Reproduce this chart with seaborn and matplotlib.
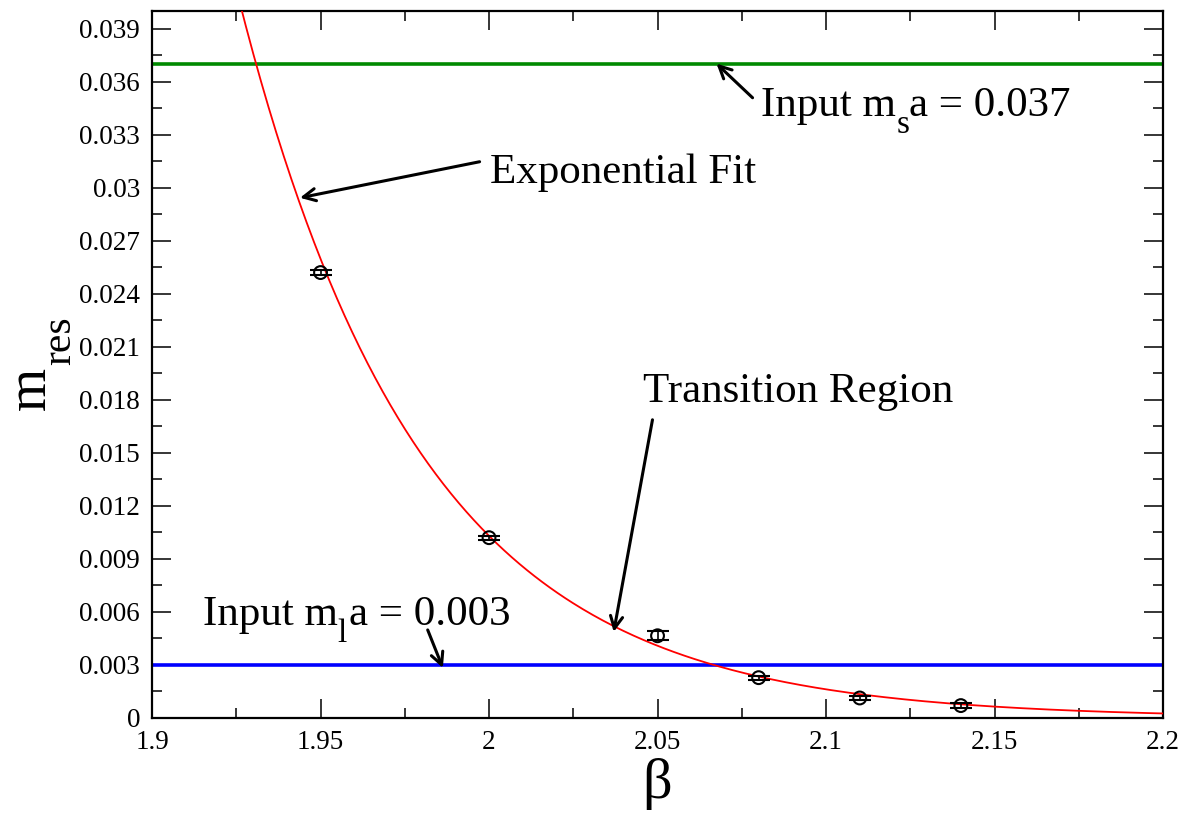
import numpy as np
import pandas as pd
import matplotlib
matplotlib.use("Agg")
import matplotlib.pyplot as plt
import seaborn as sns
from matplotlib.ticker import MultipleLocator

# ---- data ----
beta = [1.95, 2.00, 2.05, 2.08, 2.11, 2.14]
mres = [0.0252, 0.0102, 0.00465, 0.00228, 0.00113, 0.00070]
mres_err = [0.00012, 0.00012, 0.00025, 0.00012, 0.00012, 0.00012]

# exponential fit parameters: m = fit_amp * exp(-fit_rate * (beta - fit_ref))
fit_ref = 2.038
fit_amp = 0.0051
fit_rate = 18.5

ms_input = 0.037
ml_input = 0.003

xticks = [1.9, 1.95, 2.0, 2.05, 2.1, 2.15, 2.2]
xticklabels = ["1.9", "1.95", "2", "2.05", "2.1", "2.15", "2.2"]
yticks = [0, 0.003, 0.006, 0.009, 0.012, 0.015, 0.018, 0.021, 0.024, 0.027, 0.03, 0.033, 0.036, 0.039]
yticklabels = ["0", "0.003", "0.006", "0.009", "0.012", "0.015", "0.018", "0.021", "0.024",
               "0.027", "0.03", "0.033", "0.036", "0.039"]

sns.set_style("ticks")
plt.rcParams["font.family"] = ["Liberation Serif", "DejaVu Serif"]
for k in ["text.color", "axes.labelcolor", "xtick.color", "ytick.color", "axes.edgecolor"]:
    plt.rcParams[k] = "black"

fig = plt.figure(figsize=(11.84, 8.13), dpi=100)
ax = fig.add_axes([0.1284, 0.1169, 0.9823 - 0.1284, 0.9865 - 0.1169])

xfit = np.linspace(1.9, 2.2, 400)
fit_df = pd.DataFrame({"beta": xfit, "m": fit_amp * np.exp(-fit_rate * (xfit - fit_ref))})

# horizontal input lines
ax.axhline(ms_input, color="#008a00", lw=2.6, zorder=2)
ax.axhline(ml_input, color="#0000ff", lw=2.6, zorder=2)

sns.lineplot(data=fit_df, x="beta", y="m", color="#ff0000", lw=1.3, ax=ax, zorder=3)

ax.errorbar(beta, mres, yerr=mres_err, fmt="none", ecolor="black", elinewidth=1.2,
            capsize=8, capthick=1.5, zorder=4)
pts = pd.DataFrame({"beta": beta, "m": mres})
sns.scatterplot(data=pts, x="beta", y="m", marker="o", s=85, facecolor="none",
                edgecolor="black", linewidth=1.5, ax=ax, zorder=5)

ax.set_xlim(1.9, 2.2)
ax.set_ylim(0, 0.04)
ax.set_xticks(xticks)
ax.set_xticklabels(xticklabels)
ax.set_yticks(yticks)
ax.set_yticklabels(yticklabels)
ax.xaxis.set_minor_locator(MultipleLocator(0.025))
ax.yaxis.set_minor_locator(MultipleLocator(0.0015))
ax.tick_params(which="both", direction="in", top=True, right=True, width=1.1, color="black")
ax.tick_params(which="major", length=14, labelsize=19.5, pad=8.5)
ax.tick_params(which="minor", length=7)
for sp in ax.spines.values():
    sp.set_visible(True)
    sp.set_linewidth(1.6)
    sp.set_color("black")

# axis labels
ax.set_xlabel("β", fontsize=42, va="top")
ax.xaxis.set_label_coords(0.5, -0.057)
ax.set_ylabel("m", fontsize=40, va="baseline", rotation_mode="anchor")
ax.yaxis.set_label_coords(-0.1058, 0.4668)
ax.text(-0.0811, 0.4993, "res", transform=ax.transAxes, fontsize=30, rotation=90,
        rotation_mode="anchor", ha="left", va="baseline")

arrow = dict(arrowstyle="->", color="black", lw=2.2, mutation_scale=22,
             shrinkA=0, shrinkB=0)
FS, SFS = 31, 24

# Input m_s a = 0.037
ax.text(2.0808, 0.03407, "Input m", fontsize=FS, va="baseline", ha="left", zorder=6)
ax.text(2.1208, 0.03311, "s", fontsize=SFS, va="baseline", ha="left", zorder=6)
ax.text(2.1247, 0.03407, "a = 0.037", fontsize=FS, va="baseline", ha="left", zorder=6)
ax.annotate("", xy=(2.0675, 0.03702), xytext=(2.0782, 0.03509), arrowprops=arrow, zorder=6)

# Exponential fit
ax.text(2.0002, 0.03028, "Exponential Fit", fontsize=FS, va="baseline", ha="left", zorder=6)
ax.annotate("", xy=(1.9439, 0.02943), xytext=(1.9972, 0.03147), arrowprops=arrow, zorder=6)

# Transition region
ax.text(2.0456, 0.01789, "Transition Region", fontsize=FS, va="baseline", ha="left", zorder=6)
ax.annotate("", xy=(2.0370, 0.00487), xytext=(2.0485, 0.01687), arrowprops=arrow, zorder=6)

# Input m_l a = 0.003
ax.text(1.9151, 0.005264, "Input m", fontsize=FS, va="baseline", ha="left", zorder=6)
ax.text(1.9551, 0.0043, "l", fontsize=SFS, va="baseline", ha="left", zorder=6)
ax.text(1.9584, 0.005264, "a = 0.003", fontsize=FS, va="baseline", ha="left", zorder=6)
ax.annotate("", xy=(1.9863, 0.00283), xytext=(1.9818, 0.00498), arrowprops=arrow, zorder=6)

fig.savefig("out.png", dpi=100)
